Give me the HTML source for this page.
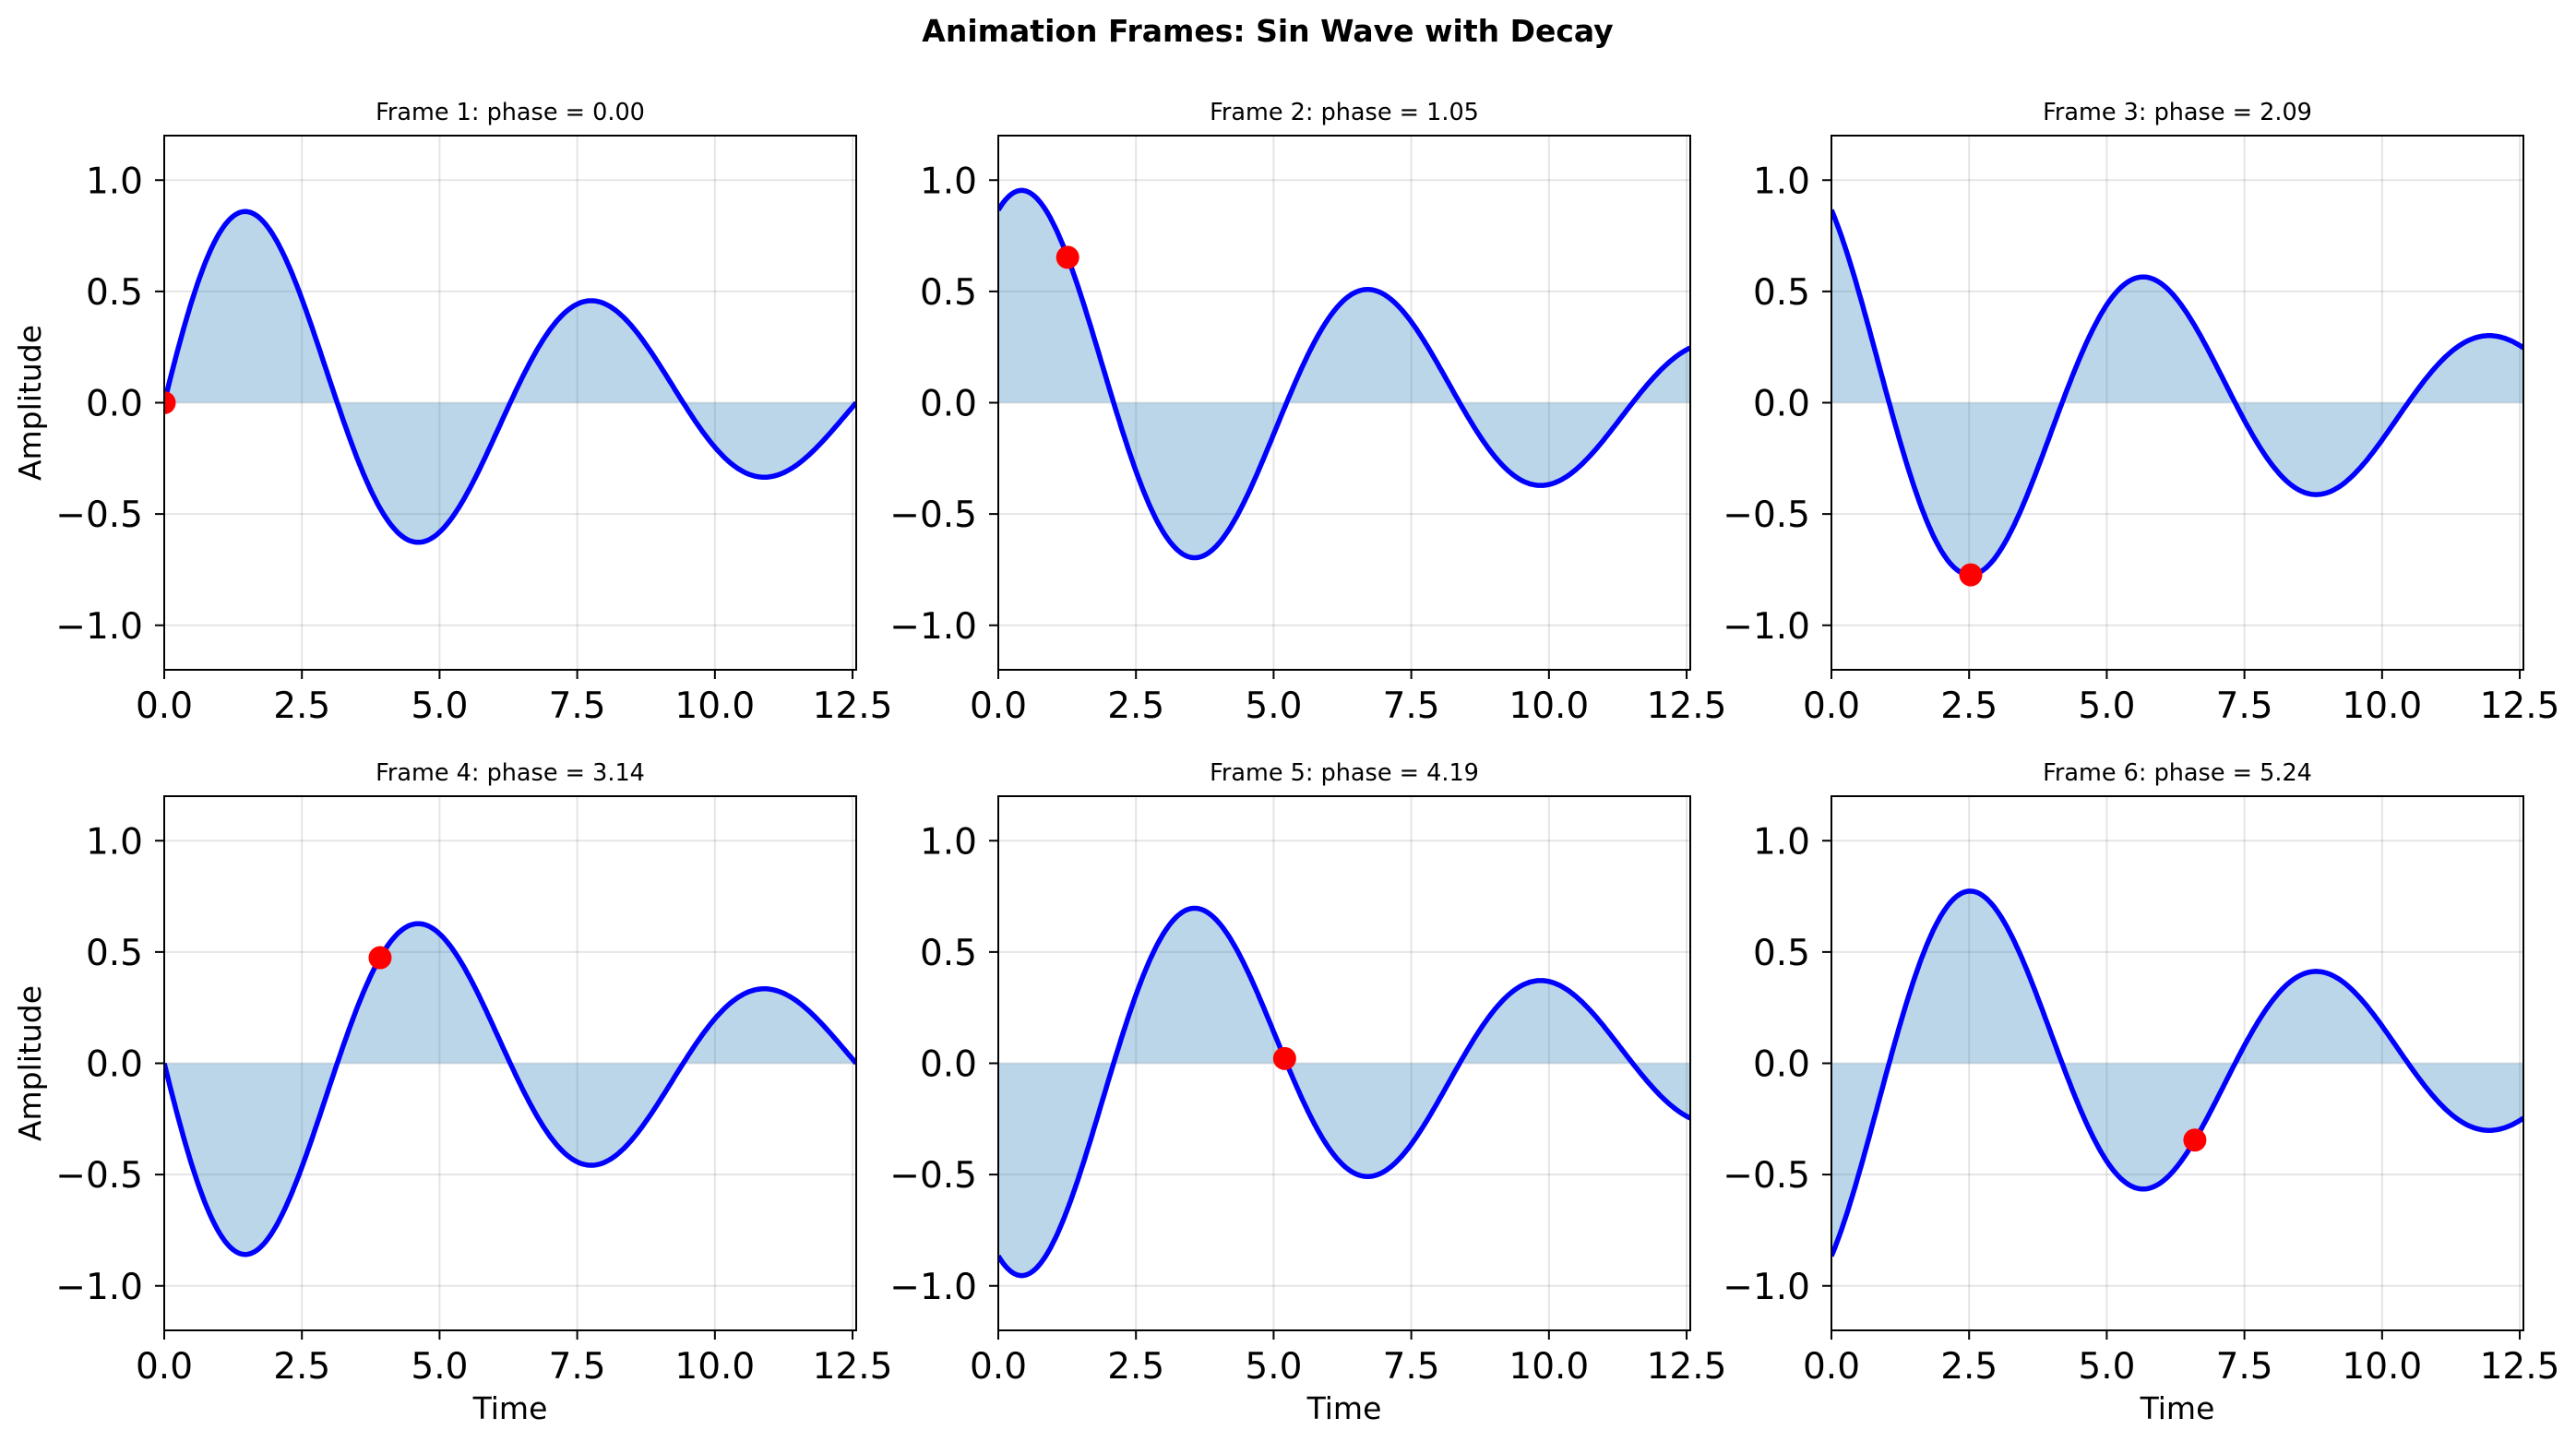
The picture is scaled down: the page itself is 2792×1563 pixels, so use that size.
<!DOCTYPE html>
<html><head><meta charset="utf-8"><style>
html,body{margin:0;padding:0;background:#fff}
svg{display:block}
text{font-family:"DejaVu Sans","Liberation Sans",sans-serif;fill:#000}
</style></head><body>
<svg id="s" width="2792" height="1563" viewBox="0 0 2792 1563" xmlns="http://www.w3.org/2000/svg">
<rect width="2792" height="1563" fill="#fff"/>
<text x="1374" y="45" font-size="33" font-weight="bold" text-anchor="middle">Animation Frames: Sin Wave with Decay</text>
</svg>
<script>
const s=document.getElementById('s');
const W=750,H=579,XMAX=4*Math.PI;
const lefts=[178,1082,1985],tops=[147,863];
const phases=[0,1.05,2.09,3.14,4.19,5.24];
const dots=[0,1.26,2.53,3.92,5.2,6.6];
let out='';
for(let i=0;i<6;i++){
 const L=lefts[i%3],T=tops[Math.floor(i/3)];
 const X=t=>L+t/XMAX*W, Y=v=>T+H/2-v/1.2*(H/2);
 const ph=i*Math.PI/3;
 out+=`<clipPath id="c${i}"><rect x="${L}" y="${T}" width="${W}" height="${H}"/></clipPath>`;
 for(const v of [-1,-0.5,0,0.5,1]) out+=`<line x1="${L}" x2="${L+W}" y1="${Y(v)}" y2="${Y(v)}" stroke="#000" stroke-opacity="0.1" stroke-width="2"/>`;
 for(const t of [0,2.5,5,7.5,10,12.5]) out+=`<line x1="${X(t)}" x2="${X(t)}" y1="${T}" y2="${T+H}" stroke="#000" stroke-opacity="0.1" stroke-width="2"/>`;
 let pts=[];for(let k=0;k<=400;k++){const t=k/400*XMAX;pts.push([X(t),Y(Math.exp(-0.1*t)*Math.sin(t+ph))]);}
 const line=pts.map(p=>p[0].toFixed(1)+','+p[1].toFixed(1)).join(' ');
 out+=`<g clip-path="url(#c${i})"><polygon points="${X(0)},${Y(0)} ${line} ${X(XMAX)},${Y(0)}" fill="#1f77b4" fill-opacity="0.3"/>`;
 out+=`<polyline points="${line}" fill="none" stroke="#0000ff" stroke-width="5.5" stroke-linejoin="round"/>`;
 const td=dots[i];out+=`<circle cx="${X(td)}" cy="${Y(Math.exp(-0.1*td)*Math.sin(td+ph))}" r="12.5" fill="#ff0000"/></g>`;
 out+=`<rect x="${L}" y="${T}" width="${W}" height="${H}" fill="none" stroke="#000" stroke-width="2"/>`;
 for(const v of [-1,-0.5,0,0.5,1]){out+=`<line x1="${L-10}" x2="${L}" y1="${Y(v)}" y2="${Y(v)}" stroke="#000" stroke-width="2"/>`;
  out+=`<text x="${L-23}" y="${Y(v)+14}" font-size="39" text-anchor="end">${v<0?'\u2212':''}${Math.abs(v).toFixed(1)}</text>`;}
 for(const t of [0,2.5,5,7.5,10,12.5]){out+=`<line x1="${X(t)}" x2="${X(t)}" y1="${T+H}" y2="${T+H+10}" stroke="#000" stroke-width="2"/>`;
  out+=`<text x="${X(t)}" y="${T+H+52}" font-size="39" text-anchor="middle">${t.toFixed(1)}</text>`;}
 out+=`<text x="${L+W/2}" y="${T-17}" font-size="25.5" text-anchor="middle">Frame ${i+1}: phase = ${phases[i].toFixed(2)}</text>`;
 if(i>=3) out+=`<text x="${L+W/2}" y="${T+H+96}" font-size="33" text-anchor="middle">Time</text>`;
 if(i%3==0) out+=`<text transform="translate(44,${T+H/2}) rotate(-90)" font-size="33" text-anchor="middle">Amplitude</text>`;
}
s.insertAdjacentHTML('beforeend',out);
</script>
</body></html>
